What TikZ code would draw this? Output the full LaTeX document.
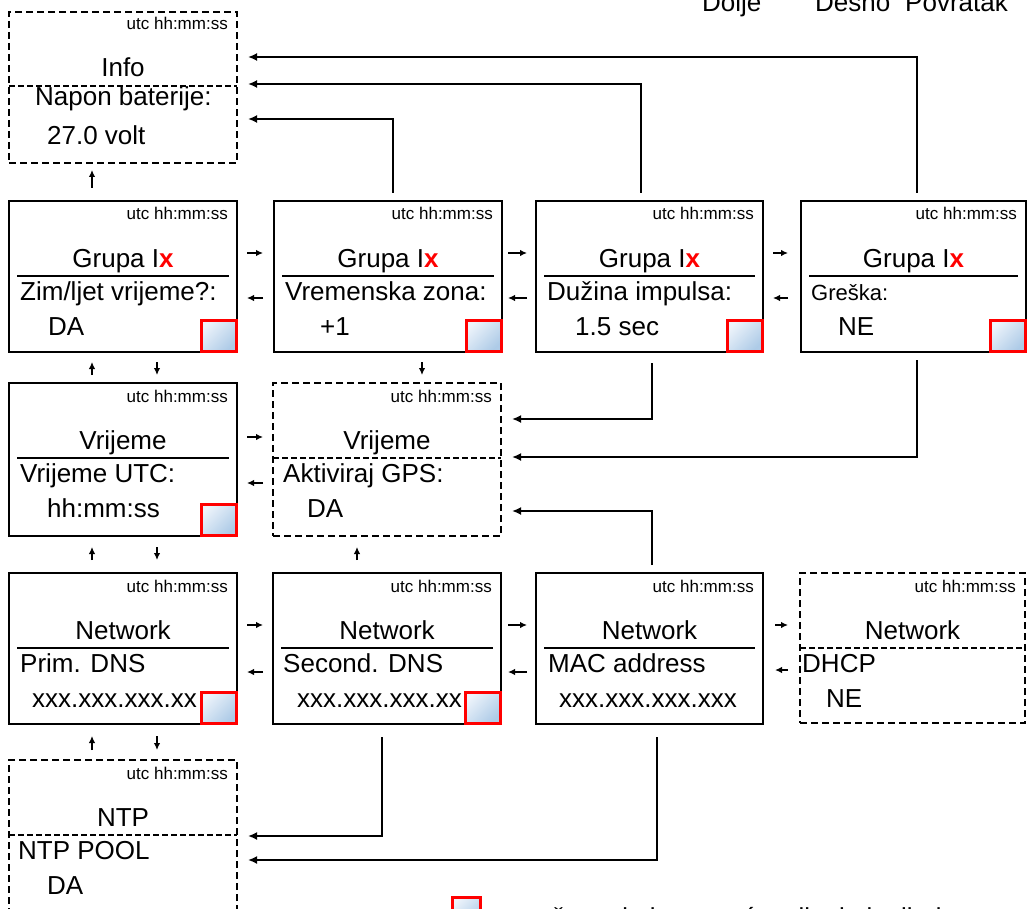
\documentclass[tikz,border=0pt]{standalone}
\usepackage{fontspec}
\setmainfont{Liberation Sans}
\usetikzlibrary{arrows.meta,calc}
\definecolor{sqlight}{RGB}{238,244,251}
\definecolor{sqdark}{RGB}{174,203,231}
\tikzset{
  screen/.style={draw, line width=2.8pt, inner sep=0pt, outer sep=0pt, rectangle},
  dscreen/.style={draw, line width=2.3pt, dash pattern=on 7pt off 4pt, inner sep=0pt, outer sep=0pt, rectangle},
  utc/.style={font=\fontsize{17}{20}\selectfont, anchor=base east, inner sep=0pt},
  ttl/.style={font=\fontsize{26}{30}\selectfont, anchor=base, inner sep=0pt},
  lbl/.style={font=\fontsize{26}{30}\selectfont, anchor=base west, inner sep=0pt},
  divider/.style={line width=2.4pt},
  ddivider/.style={line width=1.8pt, dash pattern=on 6pt off 3pt},
  redsq/.style={draw=red, line width=3pt, left color=sqlight, right color=sqdark, shading angle=45, anchor=south east, minimum width=35pt, minimum height=31pt, inner sep=0pt, outer sep=0pt},
  conn/.style={line width=2.4pt, -{Latex[length=9pt,width=8pt]}},
  sarr/.style={line width=1.9pt, -{Latex[length=7pt,width=6.5pt]}},
}
% #1 name, #2 title, #3 label, #4 label x, #5 value, #6 value x, #7 divider inset, #8 divider style
\newcommand{\mkscreen}[8]{%
  \node[utc] (#1-utc) at ([shift={(-9,19)}]#1.north east) {utc hh:mm:ss};
  \node[ttl] (#1-ttl) at ([shift={(0,66)}]#1.north) {#2};
  \draw[#8] ([shift={(#7,75)}]#1.north west) -- ([shift={(-#7,75)}]#1.north east);
  \node[lbl] (#1-lbl) at ([shift={(#4,99)}]#1.north west) {#3};
  \node[lbl] (#1-val) at ([shift={(#6,134)}]#1.north west) {#5};
}
\begin{document}
\begin{tikzpicture}[x=1pt,y=-1pt]
\useasboundingbox (0,0) rectangle (1027,909);

% top key labels (cut off by the page edge)
\node[lbl] (kdolje) at (702,12) {Dolje};
\node[lbl] (kdesno) at (815,12) {Desno};
\node[lbl] (kpovr) at (905,12) {Povratak};

% boxes
\node[dscreen, minimum width=228pt, minimum height=151pt] (info) at (123,87.5) {};
\node[screen, minimum width=228pt, minimum height=151pt] (gA) at (123,276.5) {};
\node[screen, minimum width=228pt, minimum height=151pt] (gB) at (388,276.5) {};
\node[screen, minimum width=227pt, minimum height=151pt] (gC) at (649.5,276.5) {};
\node[screen, minimum width=225pt, minimum height=151pt] (gD) at (913.5,276.5) {};
\node[screen, minimum width=228pt, minimum height=153pt] (vE) at (123,459.5) {};
\node[dscreen, minimum width=228pt, minimum height=153pt] (vF) at (387,459.5) {};
\node[screen, minimum width=228pt, minimum height=151pt] (nG) at (123,648.5) {};
\node[screen, minimum width=228pt, minimum height=151pt] (nH) at (387,648.5) {};
\node[screen, minimum width=227pt, minimum height=151pt] (nI) at (649.5,648.5) {};
\node[dscreen, minimum width=225pt, minimum height=150pt] (nJ) at (912.5,648) {};
\node[dscreen, minimum width=228pt, minimum height=155pt] (kK) at (123,837.5) {};

% Info box contents
\node[utc] (info-utc) at ([shift={(-9,18)}]info.north east) {utc hh:mm:ss};
\node[ttl] (info-ttl) at ([shift={(0,65)}]info.north) {Info};
\draw[ddivider] ([shift={(0,74)}]info.north west) -- ([shift={(0,74)}]info.north east);
\node[lbl] (info-lbl) at ([shift={(26,94)}]info.north west) {Napon baterije:};
\node[lbl] (info-val) at ([shift={(38,133)}]info.north west) {27.0 volt};

% screen contents
\mkscreen{gA}{Grupa I\textcolor{red}{\textbf{x}}}{Zim/ljet vrijeme?:}{11}{DA}{39}{8}{divider}
\mkscreen{gB}{Grupa I\textcolor{red}{\textbf{x}}}{Vremenska zona:}{11}{+1}{46}{8}{divider}
\mkscreen{gC}{Grupa I\textcolor{red}{\textbf{x}}}{Dužina impulsa:}{11}{1.5 sec}{39}{8}{divider}
\mkscreen{gD}{Grupa I\textcolor{red}{\textbf{x}}}{\fontsize{22}{26}\selectfont Greška:}{10}{NE}{37}{8}{divider}
\mkscreen{vE}{Vrijeme}{Vrijeme UTC:}{11}{hh:mm:ss}{38}{8}{divider}
\mkscreen{vF}{Vrijeme}{Aktiviraj GPS:}{10}{DA}{34}{0}{ddivider}
\mkscreen{nG}{Network}{Prim. DNS}{11}{xxx.xxx.xxx.xx}{23}{8}{divider}
\mkscreen{nH}{Network}{Second. DNS}{10}{xxx.xxx.xxx.xx}{24}{8}{divider}
\mkscreen{nI}{Network}{MAC address}{12}{xxx.xxx.xxx.xxx}{23}{8}{divider}
\mkscreen{nJ}{Network}{DHCP}{2}{NE}{26}{0}{ddivider}
\mkscreen{kK}{NTP}{NTP POOL}{9}{DA}{38}{0}{ddivider}

% red squares
\foreach \b in {gA,gB,gC,gD,vE,nG,nH}
  \node[redsq] (\b-sq) at ([shift={(-1,-1)}]\b.south east) {};

% long connectors to Info
\draw[conn] ([shift={(5,-8)}]gB.north) |- ([shift={(11,31.5)}]info.east);
\draw[conn] ([shift={(-8.5,-8)}]gC.north) |- ([shift={(11,-3.5)}]info.east);
\draw[conn] ([shift={(3.5,-8)}]gD.north) |- ([shift={(11,-30.5)}]info.east);
% long connectors to Vrijeme (GPS)
\draw[conn] ([shift={(2.5,11)}]gC.south) |- ([shift={(11,-40.5)}]vF.east);
\draw[conn] ([shift={(3.5,8)}]gD.south) |- ([shift={(11,-2.5)}]vF.east);
\draw[conn] ([shift={(2.5,-8)}]nI.north) |- ([shift={(11,51.5)}]vF.east);
% long connectors to NTP
\draw[conn] ([shift={(-5,13)}]nH.south) |- ([shift={(11,-1.5)}]kK.east);
\draw[conn] ([shift={(7.5,13)}]nI.south) |- ([shift={(11,22.5)}]kK.east);

% short horizontal arrows, row 1
\draw[sarr] ([shift={(10,-23.5)}]gA.east) -- ([shift={(-11,-23.5)}]gB.west);
\draw[sarr] ([shift={(-11,21.5)}]gB.west) -- ([shift={(10,21.5)}]gA.east);
\draw[sarr] ([shift={(6,-23.5)}]gB.east) -- ([shift={(-9,-23.5)}]gC.west);
\draw[sarr] ([shift={(-9,21.5)}]gC.west) -- ([shift={(6,21.5)}]gB.east);
\draw[sarr] ([shift={(10,-23.5)}]gC.east) -- ([shift={(-13,-23.5)}]gD.west);
\draw[sarr] ([shift={(-13,21.5)}]gD.west) -- ([shift={(10,21.5)}]gC.east);
% row 2
\draw[sarr] ([shift={(10,-22.5)}]vE.east) -- ([shift={(-10,-22.5)}]vF.west);
\draw[sarr] ([shift={(-10,23.5)}]vF.west) -- ([shift={(10,23.5)}]vE.east);
% row 3
\draw[sarr] ([shift={(10,-23.5)}]nG.east) -- ([shift={(-10,-23.5)}]nH.west);
\draw[sarr] ([shift={(-10,23.5)}]nH.west) -- ([shift={(10,23.5)}]nG.east);
\draw[sarr] ([shift={(7,-23.5)}]nH.east) -- ([shift={(-9,-23.5)}]nI.west);
\draw[sarr] ([shift={(-9,23.5)}]nI.west) -- ([shift={(7,23.5)}]nH.east);
\draw[sarr] ([shift={(12,-23.5)}]nI.east) -- ([shift={(-12,-23)}]nJ.west);
\draw[sarr] ([shift={(-12,22)}]nJ.west) -- ([shift={(12,21.5)}]nI.east);

% short vertical arrows
\draw[sarr] ([shift={(-31,-13)}]gA.north) -- ([shift={(-31,7)}]info.south);
\draw[sarr] ([shift={(-31,-8)}]vE.north) -- ([shift={(-31,10)}]gA.south);
\draw[sarr] ([shift={(34,10)}]gA.south) -- ([shift={(34,-8)}]vE.north);
\draw[sarr] ([shift={(34,10)}]gB.south) -- ([shift={(35,-8)}]vF.north);
\draw[sarr] ([shift={(-31,-13)}]nG.north) -- ([shift={(-31,11)}]vE.south);
\draw[sarr] ([shift={(34,11)}]vE.south) -- ([shift={(34,-13)}]nG.north);
\draw[sarr] ([shift={(-30,-13)}]nH.north) -- ([shift={(-30,11)}]vF.south);
\draw[sarr] ([shift={(-31,-10)}]kK.north) -- ([shift={(-31,12)}]nG.south);
\draw[sarr] ([shift={(34,12)}]nG.south) -- ([shift={(34,-10)}]kK.north);

% legend (cut off by the page edge)
\node[redsq, anchor=north west, minimum width=28pt, minimum height=28pt] (legsq) at (452,897) {};
\node[lbl] (legtxt) at (495,926) {označava da je moguće mijenjati vrijednost};
\end{tikzpicture}
\end{document}
